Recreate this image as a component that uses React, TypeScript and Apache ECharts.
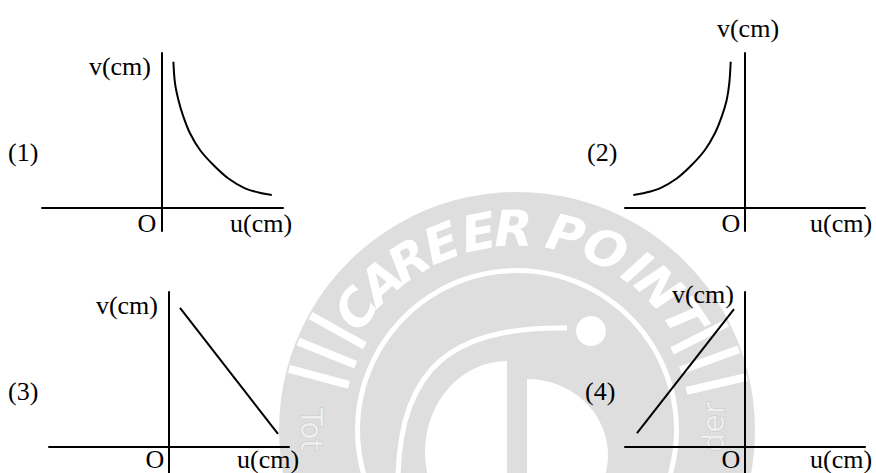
import React, { useEffect, useRef } from "react";
import * as echarts from "echarts";

// ---- data (arbitrary units) ----
const curve1U = [0.57, 0.65, 0.82, 1.07, 1.4, 1.9, 2.57, 3.32, 4.15, 4.99, 5.49];
const curve1V = [9.44, 8.05, 6.97, 5.89, 4.82, 3.74, 2.77, 1.9, 1.27, 0.95, 0.84];
const curve2U = [-5.56, -5.06, -4.23, -3.39, -2.64, -1.98, -1.48, -1.14, -0.89, -0.76, -0.69];
const curve2V = [0.84, 0.95, 1.27, 1.9, 2.77, 3.74, 4.82, 5.89, 6.97, 8.05, 9.44];
const line3U = [0.55, 5.45];
const line3V = [8.97, 0.84];
const line4U = [-5.375, -0.525];
const line4V = [0.9, 8.9];

const panelTags = ["(1)", "(2)", "(3)", "(4)"];
const axisNameU = "u(cm)";
const axisNameV = "v(cm)";
const originName = "O";

const xRanges = [
  [-6, 6.05],
  [-5.975, 6.025],
  [-6, 6],
  [-5.975, 6.025],
];
const yRanges = [
  [-1.484, 10],
  [-1.484, 10],
  [-1.677, 10],
  [-1.677, 10],
];

// watermark decoration
const bandLetters = ["C", "A", "R", "E", "E", "R", "P", "O", "I", "N", "T"];
const letterAngles = [-53, -42.5, -32.5, -22, -11, -1, 14, 26, 36.5, 45, 56];
const stripeAngles = [-61, -68, -75, 63, 70, 77];

const zip = (a: number[], b: number[]) => a.map((v, i) => [v, b[i]]);

export default function App() {
  const ref = useRef<HTMLDivElement>(null);
  useEffect(() => {
    if (!ref.current) return;
    const chart = echarts.init(ref.current, null, { renderer: "svg" });

    const GRAY = "#dedede";
    const CX = 517;
    const CY = 430;
    const rad = (d: number) => (d * Math.PI) / 180;

    const wm: any[] = [];
    wm.push({ type: "ring", z: -10, shape: { cx: CX, cy: CY, r: 238, r0: 162 }, style: { fill: GRAY } });
    bandLetters.forEach((ch, i) => {
      const t = rad(letterAngles[i]);
      wm.push({
        type: "text",
        z: -9,
        x: CX + 201 * Math.sin(t),
        y: CY - 201 * Math.cos(t),
        rotation: -t,
        style: {
          text: ch,
          fill: "#ffffff",
          fontSize: 50,
          fontWeight: "bold",
          fontStyle: "italic",
          fontFamily: "DejaVu Sans",
          align: "center",
          verticalAlign: "middle",
        },
      });
    });
    stripeAngles.forEach((a) => {
      const t = rad(a);
      wm.push({
        type: "rect",
        z: -9,
        x: CX + 205 * Math.sin(t),
        y: CY - 205 * Math.cos(t),
        rotation: -t,
        shape: { x: -4, y: -31, width: 8, height: 62 },
        style: { fill: "#ffffff" },
      });
    });
    wm.push({
      type: "text",
      z: -9,
      x: 296,
      y: 408,
      rotation: -Math.PI / 2,
      style: {
        text: "Tot",
        fill: "#eeeeee",
        stroke: "#c4c4c4",
        lineWidth: 1,
        fontSize: 30,
        fontFamily: "DejaVu Sans",
        align: "left",
        verticalAlign: "bottom",
      },
    });
    wm.push({
      type: "text",
      z: -9,
      x: 728,
      y: 402,
      rotation: Math.PI / 2,
      style: {
        text: "der",
        fill: "#eeeeee",
        stroke: "#c4c4c4",
        lineWidth: 1,
        fontSize: 30,
        fontFamily: "DejaVu Sans",
        align: "right",
        verticalAlign: "bottom",
      },
    });
    wm.push({ type: "circle", z: -10, shape: { cx: CX, cy: CY, r: 157 }, style: { fill: GRAY } });
    wm.push({
      type: "bezierCurve",
      z: -9,
      shape: { x1: 398, y1: 478, cpx1: 400, cpy1: 368, cpx2: 452, cpy2: 326, x2: 567, y2: 328 },
      style: { stroke: "#ffffff", lineWidth: 5, fill: "none" },
    });
    wm.push({ type: "circle", z: -9, shape: { cx: 591, cy: 331, r: 15 }, style: { fill: "#ffffff" } });
    wm.push({
      type: "sector",
      z: -9,
      x: 507,
      y: 452,
      scaleY: 91 / 82,
      shape: { cx: 0, cy: 0, r: 82, r0: 0, startAngle: Math.PI / 2, endAngle: (3 * Math.PI) / 2, clockwise: true },
      style: { fill: "#ffffff" },
    });
    wm.push({
      type: "sector",
      z: -9,
      x: 527,
      y: 455,
      scaleY: 76 / 81,
      shape: { cx: 0, cy: 0, r: 81, r0: 0, startAngle: -Math.PI / 2, endAngle: Math.PI / 2, clockwise: true },
      style: { fill: "#ffffff" },
    });

    const font = { fontFamily: "Liberation Serif", fontSize: 26, fill: "#000" };
    const label = (text: string, x: number, y: number, align: string) => ({
      type: "text",
      z: 100,
      x,
      y,
      style: { ...font, text, align, verticalAlign: "middle" },
    });
    const labels = [
      label(panelTags[0], 8, 152, "left"),
      label(axisNameV, 151, 66, "right"),
      label(originName, 147, 223, "center"),
      label(axisNameU, 230, 223, "left"),

      label(panelTags[1], 587, 152, "left"),
      label(axisNameV, 748, 28, "center"),
      label(originName, 731, 223, "center"),
      label(axisNameU, 810, 223, "left"),

      label(panelTags[2], 8, 391, "left"),
      label(axisNameV, 158, 305, "right"),
      label(originName, 155, 459, "center"),
      label(axisNameU, 237, 459, "left"),

      label(panelTags[3], 585, 391, "left"),
      label(axisNameV, 734, 294, "right"),
      label(originName, 731, 459, "center"),
      label(axisNameU, 810, 459, "left"),
    ];

    const axisCommon = {
      type: "value",
      axisLine: { show: true, onZero: true, lineStyle: { color: "#000", width: 2 } },
      axisTick: { show: false },
      axisLabel: { show: false },
      splitLine: { show: false },
    };

    const lineStyle = { color: "#000", width: 2 };
    const seriesCommon = { type: "line", showSymbol: false, symbol: "none", lineStyle, z: 5 };

    const option: any = {
      animation: false,
      backgroundColor: "#ffffff",
      grid: [
        { left: 42, top: 53, width: 241, height: 178 },
        { left: 625, top: 53, width: 240, height: 178 },
        { left: 49, top: 292, width: 240, height: 181 },
        { left: 625, top: 292, width: 240, height: 181 },
      ],
      xAxis: xRanges.map((r, i) => ({ ...axisCommon, gridIndex: i, min: r[0], max: r[1] })),
      yAxis: yRanges.map((r, i) => ({ ...axisCommon, gridIndex: i, min: r[0], max: r[1] })),
      series: [
        { ...seriesCommon, xAxisIndex: 0, yAxisIndex: 0, smooth: 0.35, data: zip(curve1U, curve1V) },
        { ...seriesCommon, xAxisIndex: 1, yAxisIndex: 1, smooth: 0.35, data: zip(curve2U, curve2V) },
        { ...seriesCommon, xAxisIndex: 2, yAxisIndex: 2, data: zip(line3U, line3V) },
        { ...seriesCommon, xAxisIndex: 3, yAxisIndex: 3, data: zip(line4U, line4V) },
      ],
      graphic: [...wm, ...labels],
    };
    chart.setOption(option);
    return () => chart.dispose();
  }, []);

  return (
    <div
      ref={ref}
      style={{ position: "absolute", left: 0, top: 0, width: 876, height: 473, background: "#fff" }}
    />
  );
}
